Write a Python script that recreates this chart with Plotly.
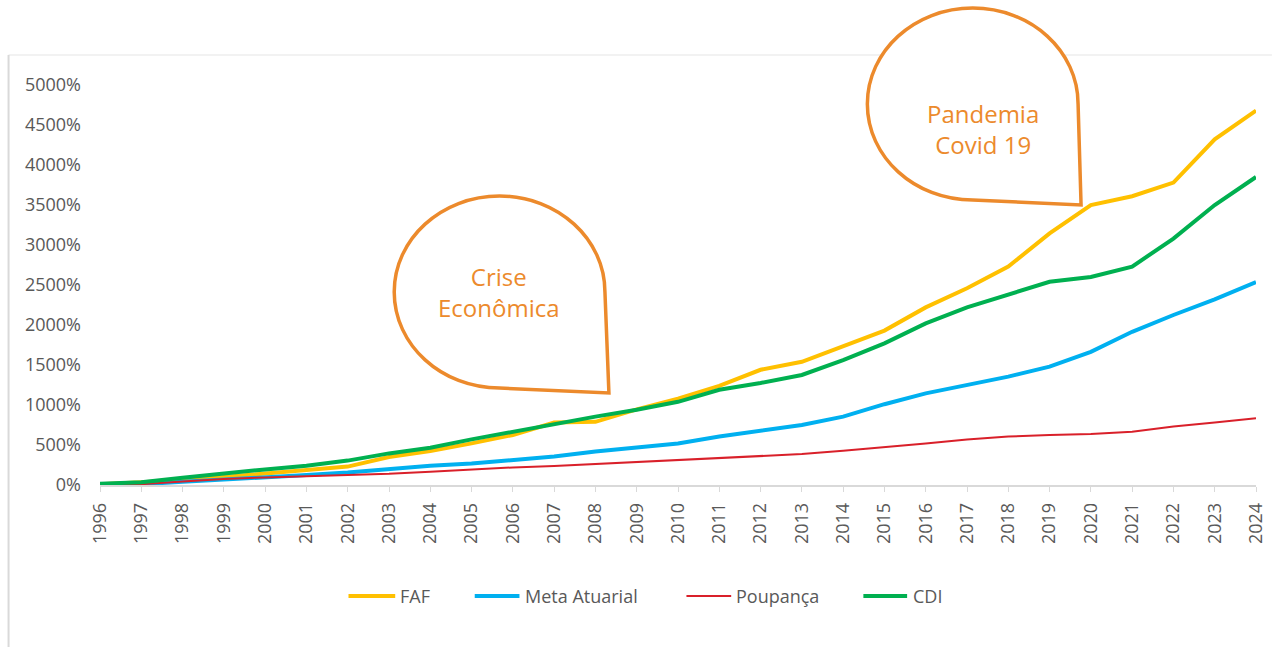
import plotly.graph_objects as go

# Dados (rentabilidade acumulada, %)
anos = list(range(1996, 2025))

faf = [10, 30, 60, 100, 140, 180, 230, 350, 425, 520, 625, 780, 790, 945, 1080,
       1240, 1440, 1540, 1740, 1930, 2220, 2460, 2730, 3145, 3500, 3610, 3780, 4320, 4680]
meta_atuarial = [0, 10, 40, 65, 90, 125, 155, 200, 240, 270, 310, 355, 420, 470, 520,
                 605, 675, 750, 855, 1010, 1145, 1250, 1355, 1480, 1665, 1915, 2125, 2320, 2535]
poupanca = [0, 10, 45, 75, 95, 112, 120, 140, 167, 195, 220, 237, 262, 292, 312,
            341, 362, 387, 429, 470, 520, 570, 605, 625, 637, 667, 730, 780, 835]
cdi = [15, 35, 90, 145, 195, 240, 305, 395, 466, 570, 666, 750, 855, 940, 1040,
       1190, 1275, 1375, 1560, 1770, 2020, 2220, 2375, 2540, 2600, 2730, 3080, 3500, 3850]

series_nomes = ["FAF", "Meta Atuarial", "Poupança", "CDI"]
series_valores = [faf, meta_atuarial, poupanca, cdi]
series_cores = ["#FFC000", "#00B0F0", "#D9202A", "#00B050"]
series_larguras = [4, 4, 2, 4]

ORANGE = "#EC8A2C"
GRAY = "#595959"
FONT = "Open Sans"

# geometria da área do gráfico (pixels)
W, H = 1279, 647
L, R, T, B = 100, 16, 85, 162
PW, PH = W - L - R, H - T - B


def px(x):
    return (x - L) / PW


def py(y):
    return (H - B - y) / PH


def bolha(cx, cy, rx, ry, tip):
    """Balão em forma de gota: 3/4 de elipse + ponta inferior direita"""
    k = 0.5523
    pts = [
        ("M", [(cx + rx, cy)]),
        ("C", [(cx + rx, cy - k * ry), (cx + k * rx, cy - ry), (cx, cy - ry)]),
        ("C", [(cx - k * rx, cy - ry), (cx - rx, cy - k * ry), (cx - rx, cy)]),
        ("C", [(cx - rx, cy + k * ry), (cx - k * rx, cy + ry), (cx, cy + ry)]),
        ("L", [tip]),
    ]
    path = ""
    for cmd, coords in pts:
        path += cmd + " ".join(f"{px(x):.5f},{py(y):.5f}" for x, y in coords) + " "
    return path + "Z"


fig = go.Figure()

for nome, vals, cor, lw in zip(series_nomes, series_valores, series_cores, series_larguras):
    fig.add_trace(go.Scatter(
        x=anos, y=vals, name=nome, mode="lines",
        line=dict(color=cor, width=lw),
        hovertemplate=f"<b>{nome}</b><br>%{{x}}: %{{y}}%<extra></extra>",
    ))

shapes = [
    # moldura
    dict(type="line", xref="paper", yref="paper", x0=px(8), x1=px(W), y0=py(55), y1=py(55),
         line=dict(color="#eeeeee", width=1.5), layer="below"),
    dict(type="line", xref="paper", yref="paper", x0=px(8), x1=px(8), y0=py(55), y1=py(H),
         line=dict(color="#d9d9d9", width=2), layer="below"),
    # balões
    dict(type="path", xref="paper", yref="paper", path=bolha(502, 292, 106, 96, (612, 393)),
         line=dict(color=ORANGE, width=3.5), fillcolor="white", layer="above"),
    dict(type="path", xref="paper", yref="paper", path=bolha(978, 104, 106, 96, (1087, 205)),
         line=dict(color=ORANGE, width=3.5), fillcolor="white", layer="above"),
]

annotations = []
for txt, x, y in [("Crise<br>Econômica", 501, 292), ("Pandemia<br>Covid 19", 988, 129)]:
    annotations.append(dict(text=txt, x=px(x), y=py(y), xref="paper", yref="paper",
                            showarrow=False, xanchor="center", yanchor="middle",
                            align="center",
                            font=dict(family=FONT, size=24, color=ORANGE)))

# legenda manual
leg_y = 596
leg_itens = [(350, 397, 402), (477, 522, 528), (690, 735, 740), (868, 912, 918)]
for (x0, x1, xt), nome, cor, lw in zip(leg_itens, series_nomes, series_cores, series_larguras):
    shapes.append(dict(type="line", xref="paper", yref="paper", x0=px(x0), x1=px(x1),
                       y0=py(leg_y), y1=py(leg_y), line=dict(color=cor, width=lw)))
    annotations.append(dict(text=nome, x=px(xt - 2), y=py(leg_y), xref="paper", yref="paper",
                            showarrow=False, xanchor="left", yanchor="middle",
                            font=dict(family=FONT, size=18, color=GRAY)))

fig.update_layout(
    width=W, height=H,
    margin=dict(l=L, r=R, t=T, b=B),
    paper_bgcolor="white", plot_bgcolor="white",
    showlegend=False,
    font=dict(family=FONT, size=18, color=GRAY),
    shapes=shapes,
    annotations=annotations,
)

fig.update_xaxes(
    range=[1996, 2024], dtick=1, tickangle=-90,
    showgrid=False, zeroline=False,
    showline=True, linecolor="#d9d9d9", linewidth=1.5,
    ticks="outside", ticklen=5, tickcolor="#d9d9d9",
    ticklabelstandoff=4,
    tickfont=dict(family=FONT, size=18, color=GRAY),
)
fig.update_yaxes(
    range=[0, 5000], dtick=500, ticksuffix="%",
    showgrid=False, zeroline=False, showline=False,
    ticks="", ticklabelstandoff=18,
    tickfont=dict(family=FONT, size=18, color=GRAY),
)

fig.write_html("out.html", config={"displayModeBar": False},
               post_script="document.body.style.margin='0';")
